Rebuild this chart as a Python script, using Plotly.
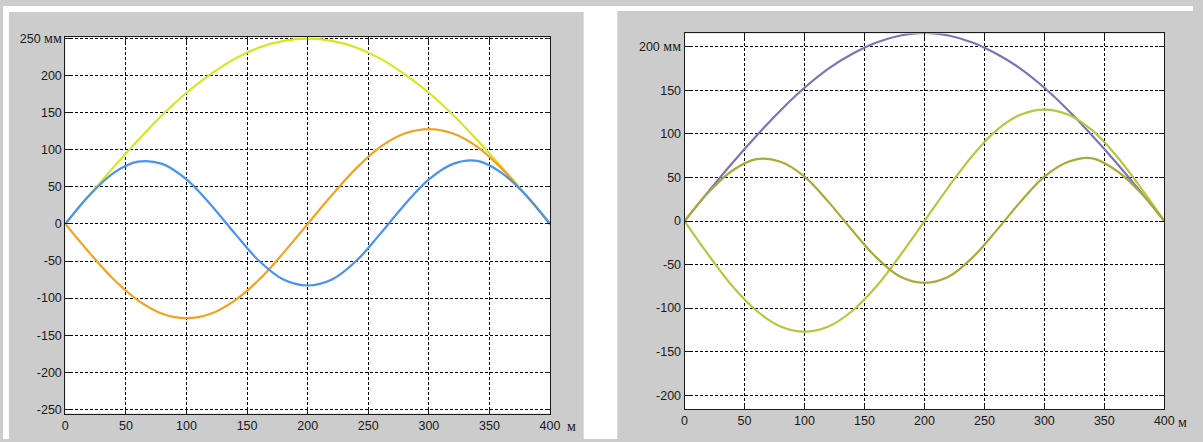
import plotly.graph_objects as go

# ---- data ----
x_pts = [0, 20, 40, 60, 80, 100, 120, 140, 160, 180, 200, 220, 240, 260, 280, 300, 320, 340, 360, 380, 400]

left_yellow = [0, 39, 77, 113, 147, 177, 202, 223, 238, 247, 250, 247, 238, 223, 202, 177, 147, 113, 77, 39, 0]
left_orange = [0, -39, -75, -103, -121, -127, -121, -103, -75, -39, 0, 39, 75, 104, 122, 128, 122, 104, 75, 39, 0]
left_blue = [0, 39, 69, 84, 81, 60, 26, -13, -50, -75, -83, -75, -50, -13, 26, 60, 81, 85, 69, 39, 0]

right_purple = [0, 34, 67, 98, 127, 153, 175, 192, 205, 213, 216, 213, 205, 192, 175, 153, 127, 98, 67, 34, 0]
right_light = [0, -39, -75, -103, -121, -127, -121, -103, -75, -39, 0, 39, 75, 104, 122, 128, 122, 104, 75, 39, 0]
right_dark = [0, 33, 58, 71, 68, 51, 22, -11, -42, -64, -71, -64, -42, -11, 22, 51, 68, 72, 58, 33, 0]

x_ticks = [0, 50, 100, 150, 200, 250, 300, 350, 400]
x_ticktext = ["0", "50", "100", "150", "200", "250", "300", "350", "400"]
left_yticks = [-250, -200, -150, -100, -50, 0, 50, 100, 150, 200, 250]
left_yticktext = ["-250", "-200", "-150", "-100", "-50", "0", "50", "100", "150", "200",
                  "250<span style='font-family:Liberation Serif;font-size:14px'> мм</span>"]
right_yticks = [-200, -150, -100, -50, 0, 50, 100, 150, 200]
right_yticktext = ["-200", "-150", "-100", "-50", "0", "50", "100", "150",
                   "200<span style='font-family:Liberation Serif;font-size:14px'> мм</span>"]
unit_x = "м"

W, H = 1203, 442

fig = go.Figure()

def line(x, y, color, xa, ya):
    fig.add_trace(go.Scatter(x=x, y=y, mode="lines", xaxis=xa, yaxis=ya,
                             line=dict(color=color, width=2.2, shape="spline"),
                             showlegend=False, hoverinfo="skip"))

line(x_pts, left_yellow, "#d4e81e", "x", "y")
line(x_pts, left_orange, "#f2a21e", "x", "y")
line(x_pts, left_blue, "#4a92f2", "x", "y")

line(x_pts, right_purple, "#7c74b8", "x2", "y2")
line(x_pts, right_light, "#b8c640", "x2", "y2")
line(x_pts, right_dark, "#aaaa38", "x2", "y2")

tickfont = dict(family="Liberation Sans, Arial", size=12.5, color="#1a1a1a")
common_axis = dict(showline=True, linecolor="#1a1a1a", linewidth=1, mirror="ticks",
                   ticks="inside", ticklen=5, tickcolor="#1a1a1a",
                   showgrid=True, gridcolor="#000000", gridwidth=1, griddash="3px,2px",
                   zeroline=False, tickfont=tickfont, fixedrange=True)

white = dict(fillcolor="white", line=dict(width=0), layer="below", xref="paper", yref="paper", type="rect")
unit_font = dict(family="Liberation Serif", size=14, color="#1a1a1a")

fig.update_layout(
    width=W, height=H,
    margin=dict(l=0, r=0, t=0, b=0),
    paper_bgcolor="#cccccc", plot_bgcolor="white",
    xaxis=dict(domain=[63 / W, 553 / W], range=[0, 400], tickvals=x_ticks, ticktext=x_ticktext,
               anchor="y", **common_axis),
    yaxis=dict(domain=[1 - 416 / H, 1 - 32 / H], range=[-255.7, 251.7], tickvals=left_yticks,
               ticktext=left_yticktext, anchor="x", **common_axis),
    xaxis2=dict(domain=[689 / W, 1174 / W], range=[0, 400], tickvals=x_ticks, ticktext=x_ticktext,
                anchor="y2", **common_axis),
    yaxis2=dict(domain=[1 - 411.7 / H, 1 - 28 / H], range=[-216.2, 215.4], tickvals=right_yticks,
                ticktext=right_yticktext, anchor="x2", **common_axis),
    shapes=[
        dict(x0=0, x1=6 / W, y0=0, y1=1, **white),
        dict(x0=0, x1=1, y0=1 - 5 / H, y1=1, **white),
        dict(x0=0, x1=621 / W, y0=1 - 6 / H, y1=1, **white),
        dict(x0=587 / W, x1=621 / W, y0=0, y1=1, **white),
    ],
    annotations=[
        dict(text=unit_x, xref="x", yref="y domain", x=400, y=0, xanchor="left", yanchor="middle",
             xshift=15, yshift=-13, showarrow=False, font=unit_font),
        dict(text=unit_x, xref="x2", yref="y2 domain", x=400, y=0, xanchor="left", yanchor="middle",
             xshift=12, yshift=-13, showarrow=False, font=unit_font),
    ],
)

post = (
    "document.documentElement.style.cssText='margin:0;padding:0;overflow:hidden;';"
    "document.body.style.cssText='margin:0;padding:0;overflow:hidden;';"
)

fig.write_html("out.html", config={"displayModeBar": False}, post_script=post)
